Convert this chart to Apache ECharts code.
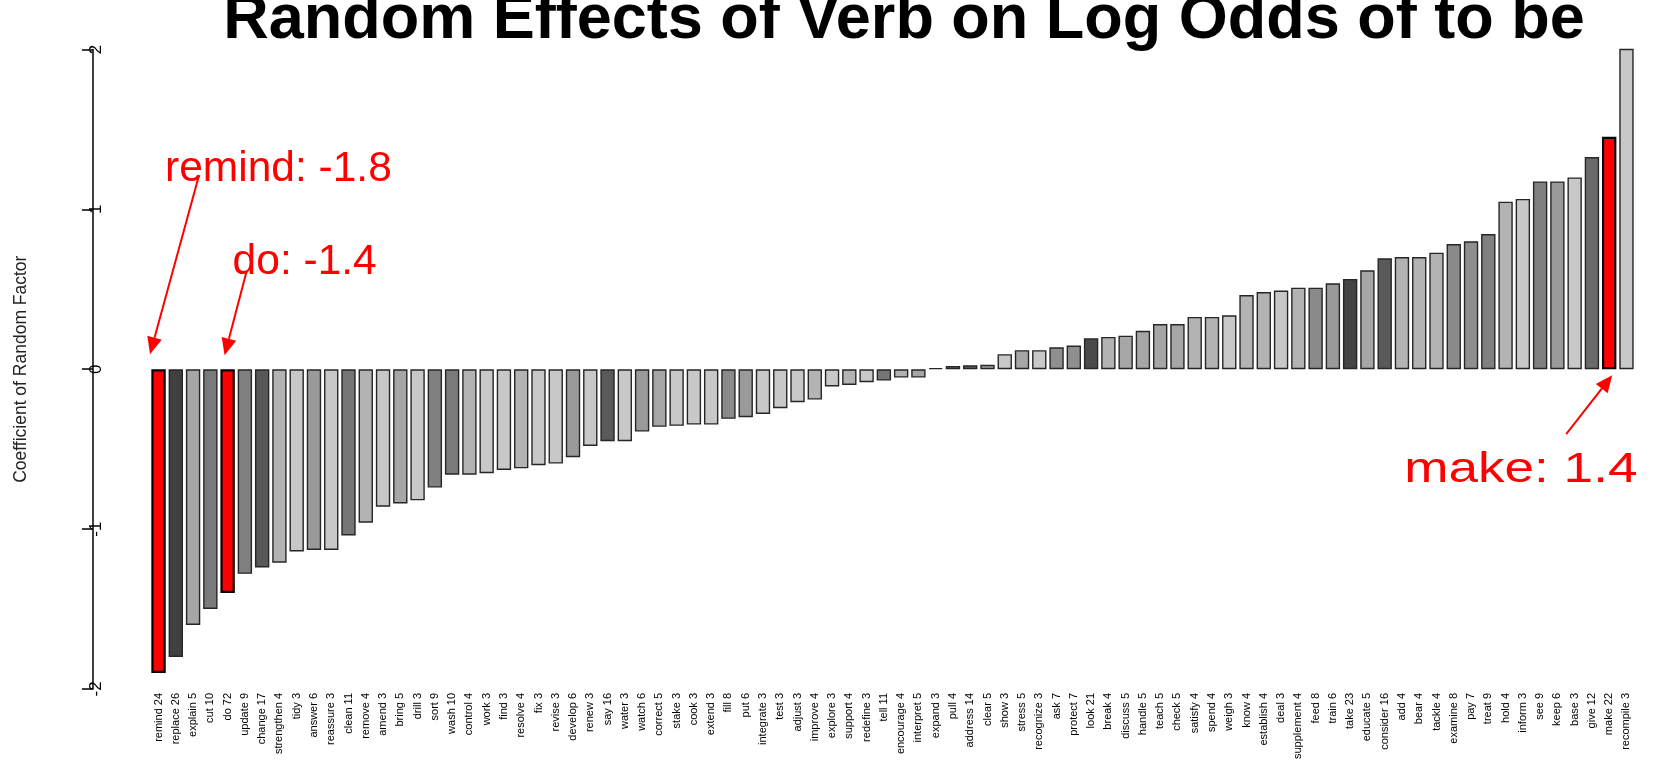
<!DOCTYPE html>
<html><head><meta charset="utf-8">
<script src="https://cdn.jsdelivr.net/npm/echarts@6/dist/echarts.min.js"></script>
<style>html,body{margin:0;padding:0;background:#fff}#c{width:1680px;height:762px}</style>
</head><body><div id="c"></div>
<script>
// ---------------- data ----------------
const titleText = 'Random Effects of Verb on Log Odds of to be';
const yAxisTitle = 'Coefficient of Random Factor';
const categories = [
  'remind 24','replace 26','explain 5','cut 10','do 72','update 9','change 17','strengthen 4','tidy 3','answer 6',
  'reassure 3','clean 11','remove 4','amend 3','bring 5','drill 3','sort 9','wash 10','control 4','work 3',
  'find 3','resolve 4','fix 3','revise 3','develop 6','renew 3','say 16','water 3','watch 6','correct 5',
  'stake 3','cook 3','extend 3','fill 8','put 6','integrate 3','test 3','adjust 3','improve 4','explore 3',
  'support 4','redefine 3','tell 11','encourage 4','interpret 5','expand 3','pull 4','address 14','clear 5','show 3',
  'stress 5','recognize 3','ask 7','protect 7','look 21','break 4','discuss 5','handle 5','teach 5','check 5',
  'satisfy 4','spend 4','weigh 3','know 4','establish 4','deal 3','supplement 4','feed 8','train 6','take 23',
  'educate 5','consider 16','add 4','bear 4','tackle 4','examine 8','pay 7','treat 9','hold 4','inform 3',
  'see 9','keep 6','base 3','give 12','make 22','recompile 3'
];
const values = [
  -1.90,-1.80,-1.60,-1.50,-1.40,-1.28,-1.24,-1.21,-1.14,-1.13,
  -1.13,-1.04,-0.96,-0.86,-0.84,-0.82,-0.74,-0.66,-0.66,-0.65,
  -0.63,-0.62,-0.60,-0.59,-0.55,-0.48,-0.45,-0.45,-0.39,-0.36,
  -0.354,-0.346,-0.346,-0.31,-0.30,-0.28,-0.244,-0.206,-0.19,-0.108,
  -0.098,-0.081,-0.071,-0.052,-0.052,0.008,0.02,0.025,0.028,0.094,
  0.119,0.119,0.1375,0.148,0.194,0.202,0.21,0.24,0.283,0.283,
  0.327,0.327,0.3375,0.464,0.483,0.492,0.51,0.51,0.5375,0.565,
  0.619,0.694,0.702,0.702,0.729,0.783,0.80,0.846,1.048,1.065,
  1.175,1.175,1.20,1.327,1.454,2.26
];
const highlighted = ['remind 24','do 72','make 22'];
const yTicks = [-2, -1, 0, 1, 2];
const annotationTexts = ['remind: -1.8', 'do: -1.4', 'make: 1.4'];

// ---------------- style ----------------
// bar fill grey by observation count (read from the reference)
const GREY_BY_COUNT = {3:200,4:179,5:166,6:154,7:143,8:138,9:128,10:122,11:118,12:106,14:96,16:90,17:88,21:74,23:68,26:64};
function barColor(label){
  if (highlighted.includes(label)) return '#ff0000';
  const n = parseInt(label.split(' ').pop(), 10);
  const g = GREY_BY_COUNT[n] != null ? GREY_BY_COUNT[n] : 128;
  return 'rgb(' + g + ',' + g + ',' + g + ')';
}
const FONT = '"Liberation Sans", Arial, sans-serif';
const GRID = {left: 149.9, right: 44.9, top: 49.5, bottom: 71.5};

const chart = echarts.init(document.getElementById('c'), null, {renderer: 'canvas'});
const barData = categories.map((c, i) => {
  const hi = highlighted.includes(c);
  return {
    value: values[i],
    itemStyle: {
      color: barColor(c),
      borderColor: hi ? '#000' : '#262626',
      borderWidth: hi ? 2.2 : 1.4
    }
  };
});

chart.setOption({
  backgroundColor: '#ffffff',
  animation: false,
  grid: {left: GRID.left, right: GRID.right, top: GRID.top, bottom: GRID.bottom, containLabel: false},
  xAxis: {
    type: 'category',
    data: categories,
    axisLine: {show: false},
    axisTick: {show: false},
    axisLabel: {interval: 0, rotate: 90, fontSize: 11, color: '#000', fontFamily: FONT, margin: 4}
  },
  yAxis: {
    type: 'value',
    min: yTicks[0], max: yTicks[yTicks.length - 1], interval: 1,
    offset: 57,
    axisLine: {show: true, lineStyle: {color: '#000', width: 1.5}},
    axisTick: {show: true, length: 11, lineStyle: {color: '#000', width: 1.5}},
    splitLine: {show: false},
    axisLabel: {rotate: 90, fontSize: 17, color: '#000', fontFamily: FONT, margin: -12},
    name: yAxisTitle,
    nameLocation: 'middle',
    nameRotate: 90,
    nameGap: 63,
    nameTextStyle: {fontSize: 17.5, color: '#222', fontFamily: FONT}
  },
  series: [{
    type: 'bar',
    data: barData,
    barCategoryGap: '16.7%',
    silent: true
  }]
});

// annotation layout (pixel offsets from each highlighted bar's base)
const ANN_LAYOUT = [
  {tip: [-8.5, -15], from: [40.5, -194], text: [6.5, -200], scaleX: 1},
  {tip: [-3, -14], from: [19, -98], text: [5, -107], scaleX: 1},
  {tip: [3, 6], from: [-43, 65], text: [-205, 101], scaleX: 1.25}
];
const graphics = [];
graphics.push({
  type: 'text', z: 100,
  style: {x: 904, y: 21, text: titleText, fill: '#000', font: 'bold 63px ' + FONT, textAlign: 'center', textVerticalAlign: 'middle'}
});
function arrowEls(x1, y1, x2, y2){
  const a = Math.atan2(y2 - y1, x2 - x1), L = 17, W = 7.5;
  const bx = x2 - L * Math.cos(a), by = y2 - L * Math.sin(a);
  return [
    {type: 'line', z: 100, shape: {x1: x1, y1: y1, x2: bx, y2: by}, style: {stroke: '#ff0000', lineWidth: 2}},
    {type: 'polygon', z: 100, shape: {points: [[x2, y2], [bx - W * Math.sin(a), by + W * Math.cos(a)], [bx + W * Math.sin(a), by - W * Math.cos(a)]]}, style: {fill: '#ff0000'}}
  ];
}
highlighted.forEach((cat, k) => {
  const p = chart.convertToPixel({gridIndex: 0}, [cat, 0]);
  const L = ANN_LAYOUT[k];
  arrowEls(p[0] + L.from[0], p[1] + L.from[1], p[0] + L.tip[0], p[1] + L.tip[1]).forEach(e => graphics.push(e));
  const tx = p[0] + L.text[0], ty = p[1] + L.text[1];
  graphics.push({
    type: 'text', z: 100,
    x: tx, y: ty, scaleX: L.scaleX, scaleY: 1,
    style: {x: 0, y: 0, text: annotationTexts[k], fill: '#ff0000', font: '42.5px ' + FONT, textAlign: 'left', textVerticalAlign: 'middle'}
  });
});
chart.setOption({graphic: graphics});
</script>
</body></html>
